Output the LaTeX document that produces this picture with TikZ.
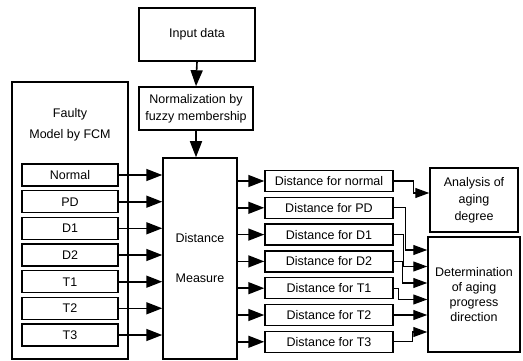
\documentclass[tikz,border=0pt]{standalone}
\usepackage{fontspec}
\setmainfont{Liberation Sans}
\usetikzlibrary{arrows.meta}

\tikzset{
  blk/.style={draw, line width=1.5pt, inner sep=0pt, align=center,
    font=\fontsize{12.5}{15}\selectfont},
  arr/.style={line width=1.6pt, -{Triangle[length=16pt,width=12pt]}},
  arrthin/.style={line width=1.1pt, -{Triangle[length=14pt,width=10pt]}}
}

\begin{document}
\begin{tikzpicture}[x=1pt,y=-1pt]
            \useasboundingbox (0,0) rectangle (523,361);
            % top chain
            \node[blk, minimum width=116pt, minimum height=53pt] (inp) at (197,34.5) {Input data};
            \node[blk, minimum width=114pt, minimum height=43pt] (norm) at (196,108.5)
              {Normalization by\\[2pt]fuzzy membership};
            % faulty models
            \node[blk, minimum width=116pt, minimum height=277pt] (flt) at (70,220.5) {};
            \node[font=\fontsize{12.5}{15}\selectfont, align=center] (flttxt) at (70,124.5)
              {Faulty\\[6pt]Model by FCM};
            \node[blk, minimum width=96pt, minimum height=22pt] (nrm) at (70,175) {Normal};
            \node[blk, minimum width=96pt, minimum height=22pt] (pd) at (70,201.7) {PD};
            \node[blk, minimum width=96pt, minimum height=22pt] (da) at (70,228.3) {D1};
            \node[blk, minimum width=96pt, minimum height=22pt] (db) at (70,255) {D2};
            \node[blk, minimum width=96pt, minimum height=22pt] (ta) at (70,281.7) {T1};
            \node[blk, minimum width=96pt, minimum height=22pt] (tb) at (70,308.3) {T2};
            \node[blk, minimum width=96pt, minimum height=22pt] (tc) at (70,335) {T3};
            % distance measure
            \node[blk, minimum width=74pt, minimum height=201pt] (dm) at (200,258.5)
              {Distance\\[25pt]Measure};
            % distances
            \node[blk, minimum width=128pt, minimum height=21pt] (dnrm) at (329,181) {Distance for normal};
            \node[blk, minimum width=128pt, minimum height=21pt] (dpd) at (329,207.8) {Distance for PD};
            \node[blk, minimum width=128pt, minimum height=21pt] (dda) at (329,234.6) {Distance for D1};
            \node[blk, minimum width=128pt, minimum height=21pt] (ddb) at (329,261.4) {Distance for D2};
            \node[blk, minimum width=128pt, minimum height=21pt] (dta) at (329,288.2) {Distance for T1};
            \node[blk, minimum width=128pt, minimum height=21pt] (dtb) at (329,315) {Distance for T2};
            \node[blk, minimum width=128pt, minimum height=21pt] (dtc) at (329,341.8) {Distance for T3};
            % results
            \node[blk, minimum width=88pt, minimum height=64pt] (ana) at (474,200)
              {Analysis of\\[2pt]aging\\[2pt]degree};
            \node[blk, minimum width=92pt, minimum height=115pt] (det) at (474,294.5)
              {Determination\\of aging\\progress\\direction};

            \draw[arr] (inp.south) -- (norm.north);
            \draw[arr] (norm.south) -- (norm.south |- dm.north);
            \draw[arr] (nrm.east) -- (nrm.east -| dm.west);
            \draw[arr] (pd.east) -- (pd.east -| dm.west);
            \draw[arr] (da.east) -- (da.east -| dm.west);
            \draw[arr] (db.east) -- (db.east -| dm.west);
            \draw[arr] (ta.east) -- (ta.east -| dm.west);
            \draw[arr] (tb.east) -- (tb.east -| dm.west);
            \draw[arr] (tc.east) -- (tc.east -| dm.west);
            \draw[arr] (dm.east |- dnrm.west) -- (dnrm.west);
            \draw[arr] (dm.east |- dpd.west) -- (dpd.west);
            \draw[arr] (dm.east |- dda.west) -- (dda.west);
            \draw[arr] (dm.east |- ddb.west) -- (ddb.west);
            \draw[arr] (dm.east |- dta.west) -- (dta.west);
            \draw[arr] (dm.east |- dtb.west) -- (dtb.west);
            \draw[arr] (dm.east |- dtc.west) -- (dtc.west);

            \draw[arrthin] (dnrm.east) -- ++(20,0) |- ([yshift=7pt]ana.west);
            \draw[arrthin] (dpd.east) -- ++(12,0) |- ([yshift=44.5pt]det.west);
            \draw[arrthin] (dda.east) -- ++(10,0) |- ([yshift=28pt]det.west);
            \draw[arrthin] (ddb.east) -- ++(9,0) |- ([yshift=11.5pt]det.west);
            \draw[arrthin] (dta.east) -- ++(5,0) |- ([yshift=-5pt]det.west);
            \draw[arrthin] (dtb.east) -- (dtb.east -| det.west);
            \draw[arrthin] (dtc.east) -- ++(19,0) |- ([yshift=-37.5pt]det.west);
        \end{tikzpicture}
\end{document}
